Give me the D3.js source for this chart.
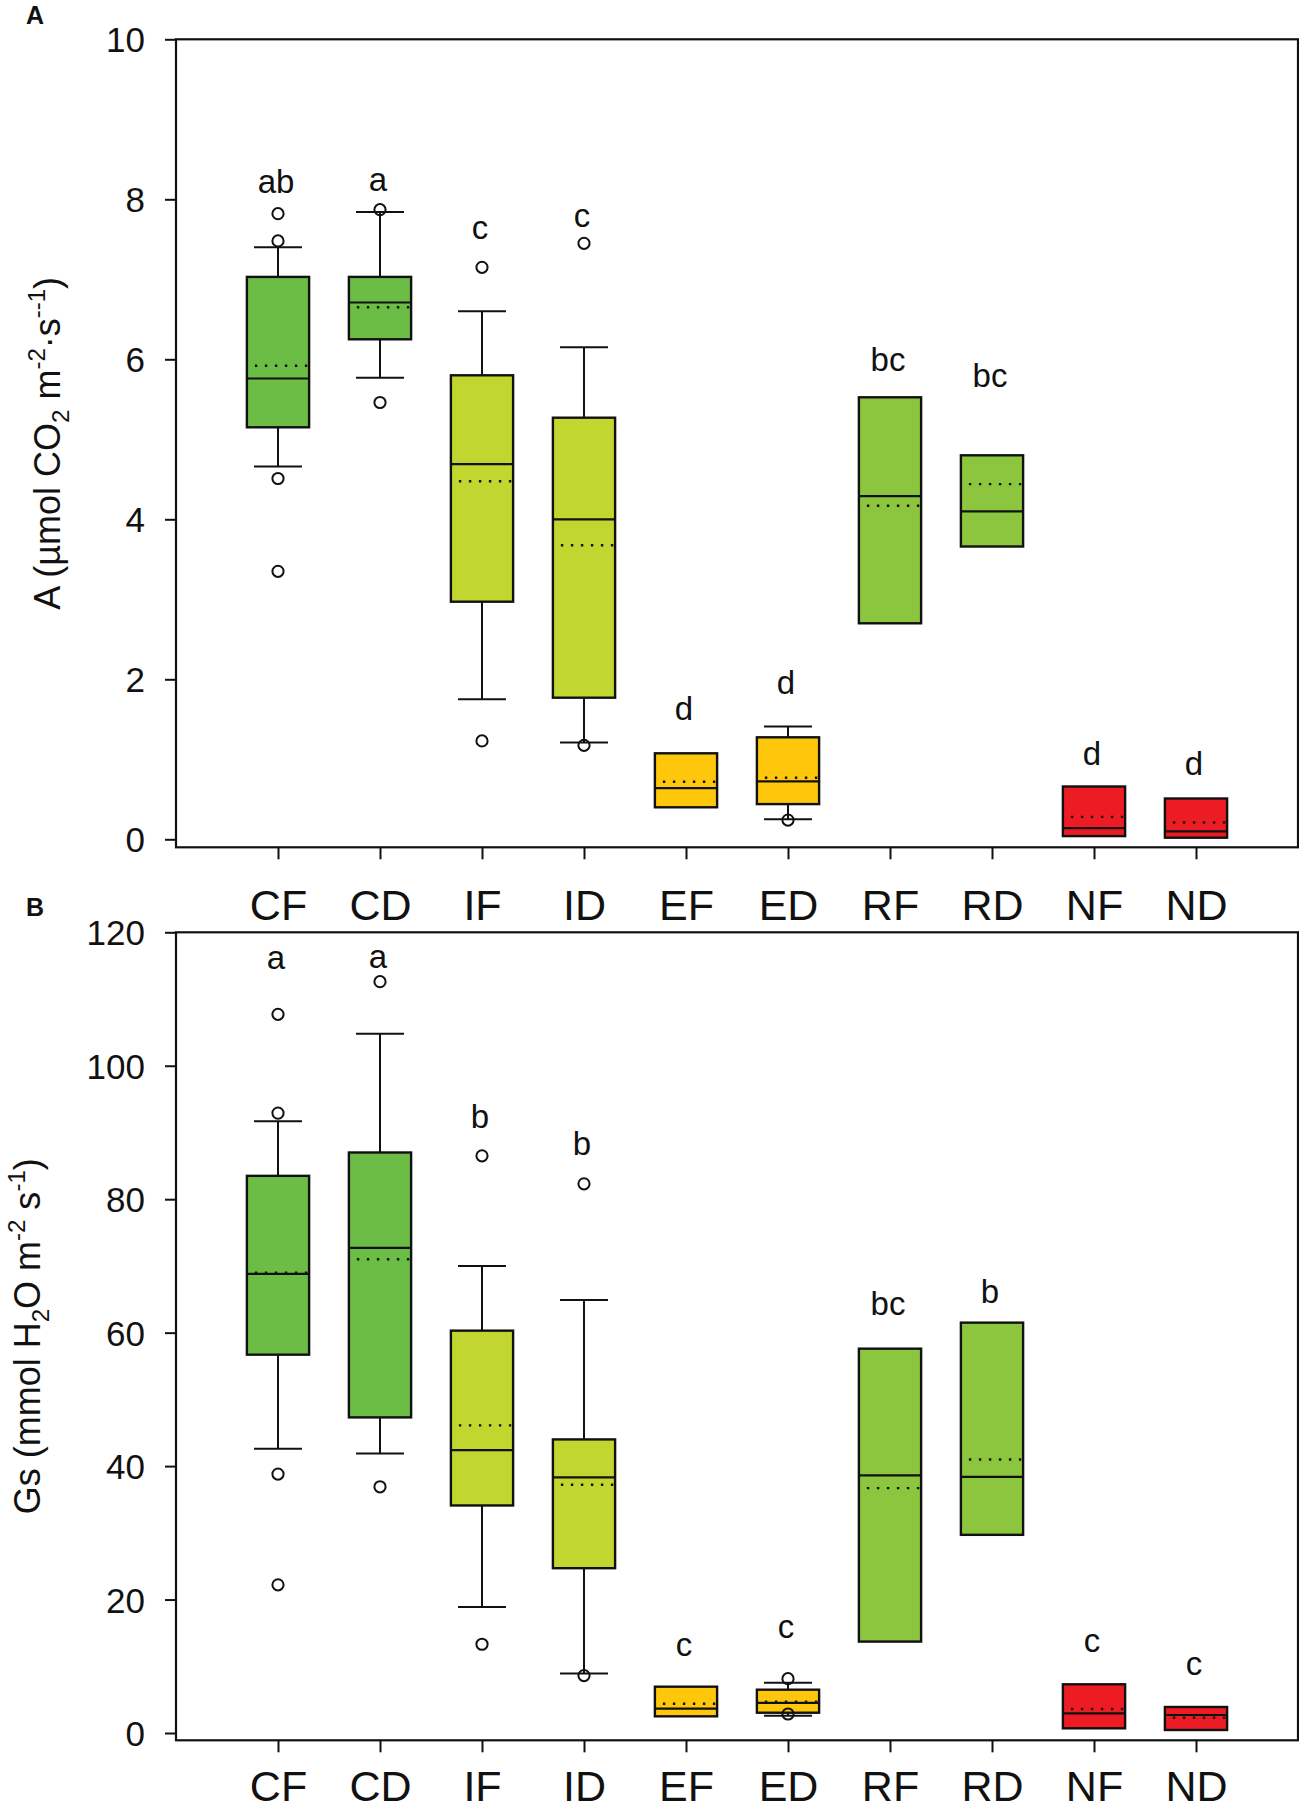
<!DOCTYPE html>
<html>

<head>
    <meta charset='utf-8'>
    <title>Boxplots A / Gs</title>
    <script type='text/javascript' src='https://cdn.jsdelivr.net/npm/d3@7/dist/d3.min.js'></script>
    <style>
        body { margin: 0; background: #fff; }
        svg { display: block; font-family: 'Liberation Sans', Arial, sans-serif; }
    </style>
</head>

<body>
    <svg width='1299' height='1813'></svg>
    <script type='text/javascript'>

        const categories = ['CF', 'CD', 'IF', 'ID', 'EF', 'ED', 'RF', 'RD', 'NF', 'ND']
        const boxFills = ['#6cbd45', '#6cbd45', '#c1d72f', '#c1d72f', '#ffc70b', '#ffc70b', '#8cc63f', '#8cc63f', '#ed1c24', '#ed1c24']

        // panel A : net photosynthesis
        const aTicks = [0, 2, 4, 6, 8, 10]
        const aQ1 = [5.15, 6.25, 2.97, 1.77, 0.40, 0.44, 2.70, 3.66, 0.04, 0.02]
        const aMedian = [5.76, 6.71, 4.69, 4.00, 0.64, 0.725, 4.29, 4.10, 0.14, 0.10]
        const aQ3 = [7.03, 7.03, 5.80, 5.27, 1.075, 1.275, 5.525, 4.80, 0.66, 0.51]
        const aMean = [5.92, 6.65, 4.475, 3.675, 0.72, 0.77, 4.17, 4.44, 0.28, 0.21]
        const aWhiskerLow = [4.66, 5.77, 1.75, 1.21, null, 0.25, null, null, null, null]
        const aWhiskerHigh = [7.40, 7.84, 6.60, 6.15, null, 1.41, null, null, null, null]
        const aOutliers = [[7.82, 7.48, 4.51, 3.35], [7.87, 5.46], [7.15, 1.23], [7.45, 1.175], [], [0.24], [], [], [], []]
        const aLetters = ['ab', 'a', 'c', 'c', 'd', 'd', 'bc', 'bc', 'd', 'd']
        const aLetterY = [8.08, 8.10, 7.50, 7.65, 1.49, 1.82, 5.86, 5.65, 0.93, 0.81]

        // panel B : stomatal conductance
        const bTicks = [0, 20, 40, 60, 80, 100, 120]
        const bQ1 = [56.7, 47.3, 34.1, 24.7, 2.50, 3.04, 13.7, 29.7, 0.70, 0.45]
        const bMedian = [68.8, 72.7, 42.4, 38.3, 3.64, 4.50, 38.6, 38.4, 2.95, 2.70]
        const bQ3 = [83.5, 87.0, 60.3, 44.0, 6.94, 6.49, 57.6, 61.5, 7.30, 3.90]
        const bMean = [69.0, 71.0, 46.1, 37.2, 4.39, 4.69, 36.7, 41.0, 3.60, 2.29]
        const bWhiskerLow = [42.6, 41.9, 18.9, 8.9, null, 2.59, null, null, null, null]
        const bWhiskerHigh = [91.7, 104.8, 70.0, 64.9, null, 7.54, null, null, null, null]
        const bOutliers = [[107.7, 92.9, 38.8, 22.2], [112.6, 36.9], [86.5, 13.3], [82.3, 8.6], [], [8.14, 2.85], [], [], [], []]
        const bLetters = ['a', 'a', 'b', 'b', 'c', 'c', 'bc', 'b', 'c', 'c']
        const bLetterY = [114.5, 114.6, 90.6, 86.6, 11.5, 14.2, 62.6, 64.5, 12.2, 8.74]

        const svg = d3.select('svg')

        const left = 176, right = 1298
        const x = d3.scalePoint()
            .domain(categories)
            .range([left, right])
            .padding(1)
        const step = x.step()
        const boxW = step * 0.61
        const capW = step * 0.47

        function drawPanel(p) {
            const y = d3.scaleLinear().domain(p.domain).range(p.range)
            const g = svg.append('g')
            const yTop = y(p.domain[1])

            // one row per box
            const rows = categories.map((c, i) => ({
                c, fill: boxFills[i], q1: p.q1[i], med: p.median[i], q3: p.q3[i], mean: p.mean[i],
                lo: p.lo[i], hi: p.hi[i], out: p.out[i], letter: p.letters[i], ly: p.letterY[i]
            }))

            const box = g.selectAll('g.box')
                .data(rows)
                .enter()
                .append('g')
                .attr('class', 'box')

            // whiskers
            box.filter(d => d.hi != null).append('line')
                .attr('x1', d => x(d.c)).attr('x2', d => x(d.c))
                .attr('y1', d => y(d.q3)).attr('y2', d => y(d.hi))
                .attr('stroke', '#111').attr('stroke-width', 2)
            box.filter(d => d.lo != null).append('line')
                .attr('x1', d => x(d.c)).attr('x2', d => x(d.c))
                .attr('y1', d => y(d.q1)).attr('y2', d => y(d.lo))
                .attr('stroke', '#111').attr('stroke-width', 2)
            box.filter(d => d.hi != null).append('line')
                .attr('x1', d => x(d.c) - capW / 2).attr('x2', d => x(d.c) + capW / 2)
                .attr('y1', d => y(d.hi)).attr('y2', d => y(d.hi))
                .attr('stroke', '#111').attr('stroke-width', 2)
            box.filter(d => d.lo != null).append('line')
                .attr('x1', d => x(d.c) - capW / 2).attr('x2', d => x(d.c) + capW / 2)
                .attr('y1', d => y(d.lo)).attr('y2', d => y(d.lo))
                .attr('stroke', '#111').attr('stroke-width', 2)

            // box
            box.append('rect')
                .attr('x', d => x(d.c) - boxW / 2)
                .attr('width', boxW)
                .attr('y', d => y(d.q3))
                .attr('height', d => y(d.q1) - y(d.q3))
                .attr('fill', d => d.fill)
                .attr('stroke', '#111')
                .attr('stroke-width', 2.4)

            // median
            box.append('line')
                .attr('x1', d => x(d.c) - boxW / 2).attr('x2', d => x(d.c) + boxW / 2)
                .attr('y1', d => y(d.med)).attr('y2', d => y(d.med))
                .attr('stroke', '#111').attr('stroke-width', 2.2)

            // mean (dotted)
            box.append('line')
                .attr('x1', d => x(d.c) - boxW / 2 + 8).attr('x2', d => x(d.c) + boxW / 2 - 1)
                .attr('y1', d => y(d.mean)).attr('y2', d => y(d.mean))
                .attr('stroke', '#111').attr('stroke-width', 2.4)
                .attr('stroke-dasharray', '2.4,7.6')

            // outliers
            box.selectAll('circle')
                .data(d => d.out.map(v => ({ c: d.c, v })))
                .enter()
                .append('circle')
                .attr('cx', d => x(d.c))
                .attr('cy', d => y(d.v))
                .attr('r', 5.6)
                .attr('fill', 'none')
                .attr('stroke', '#111')
                .attr('stroke-width', 2)

            // significance letters
            box.append('text')
                .attr('x', d => x(d.c) - 2)
                .attr('y', d => y(d.ly))
                .attr('text-anchor', 'middle')
                .attr('font-size', 33)
                .attr('fill', '#111')
                .text(d => d.letter)

            // frame
            g.append('rect')
                .attr('x', left).attr('y', yTop)
                .attr('width', right - left)
                .attr('height', p.frameBottom - yTop)
                .attr('fill', 'none')
                .attr('stroke', '#111')
                .attr('stroke-width', 2.2)

            // y axis
            const yAxis = g.append('g')
                .attr('transform', `translate(${left},0)`)
                .call(d3.axisLeft(y).tickValues(p.ticks).tickSize(11).tickPadding(20))
            yAxis.select('.domain').remove()
            yAxis.selectAll('line').attr('stroke', '#111').attr('stroke-width', 2)
            yAxis.selectAll('text')
                .attr('font-size', 35)
                .attr('font-family', null)
                .attr('fill', '#111')
                .attr('dy', '0.36em')

            // x axis
            const xAxis = g.append('g')
                .attr('transform', `translate(0,${p.frameBottom})`)
                .call(d3.axisBottom(x).tickSize(12))
            xAxis.select('.domain').remove()
            xAxis.selectAll('line').attr('stroke', '#111').attr('stroke-width', 2)
            xAxis.selectAll('text')
                .attr('font-size', 43)
                .attr('font-family', null)
                .attr('fill', '#111')
                .attr('y', p.labelGap)
                .attr('dy', 0)

            // y title with sub/superscripts
            const title = g.append('text')
                .attr('transform', `translate(${p.titleX},${(yTop + p.frameBottom) / 2}) rotate(-90)`)
                .attr('text-anchor', 'middle')
                .attr('font-size', 36)
                .attr('fill', '#111')
            p.title.forEach(part => {
                const t = title.append('tspan').text(part.t)
                if (part.s === 'sub') t.attr('font-size', 24).attr('dy', 9)
                if (part.s === 'sup') t.attr('font-size', 24).attr('dy', -15)
                if (part.back) t.attr('dy', part.back)
            })

            // panel letter
            svg.append('text')
                .attr('x', 26)
                .attr('y', p.labelY)
                .attr('font-size', 25)
                .attr('font-weight', 'bold')
                .attr('fill', '#111')
                .text(p.label)
        }

        drawPanel({
            domain: [0, 10], range: [839.3, 39.3], frameBottom: 847.3, ticks: aTicks,
            q1: aQ1, median: aMedian, q3: aQ3, mean: aMean, lo: aWhiskerLow, hi: aWhiskerHigh,
            out: aOutliers, letters: aLetters, letterY: aLetterY,
            titleX: 60, label: 'A', labelY: 24, labelGap: 73,
            title: [{ t: 'A (µmol CO' }, { t: '2', s: 'sub' }, { t: ' m', back: -9 }, { t: '-2', s: 'sup' },
            { t: '·s', back: 15 }, { t: '--1', s: 'sup' }, { t: ')', back: 15 }]
        })

        drawPanel({
            domain: [0, 120], range: [1733, 932.3], frameBottom: 1740.3, ticks: bTicks,
            q1: bQ1, median: bMedian, q3: bQ3, mean: bMean, lo: bWhiskerLow, hi: bWhiskerHigh,
            out: bOutliers, letters: bLetters, letterY: bLetterY,
            titleX: 40, label: 'B', labelY: 916, labelGap: 61,
            title: [{ t: 'Gs (mmol H' }, { t: '2', s: 'sub' }, { t: 'O m', back: -9 }, { t: '-2', s: 'sup' },
            { t: ' s', back: 15 }, { t: '-1', s: 'sup' }, { t: ')', back: 15 }]
        })
    </script>
</body>

</html>
